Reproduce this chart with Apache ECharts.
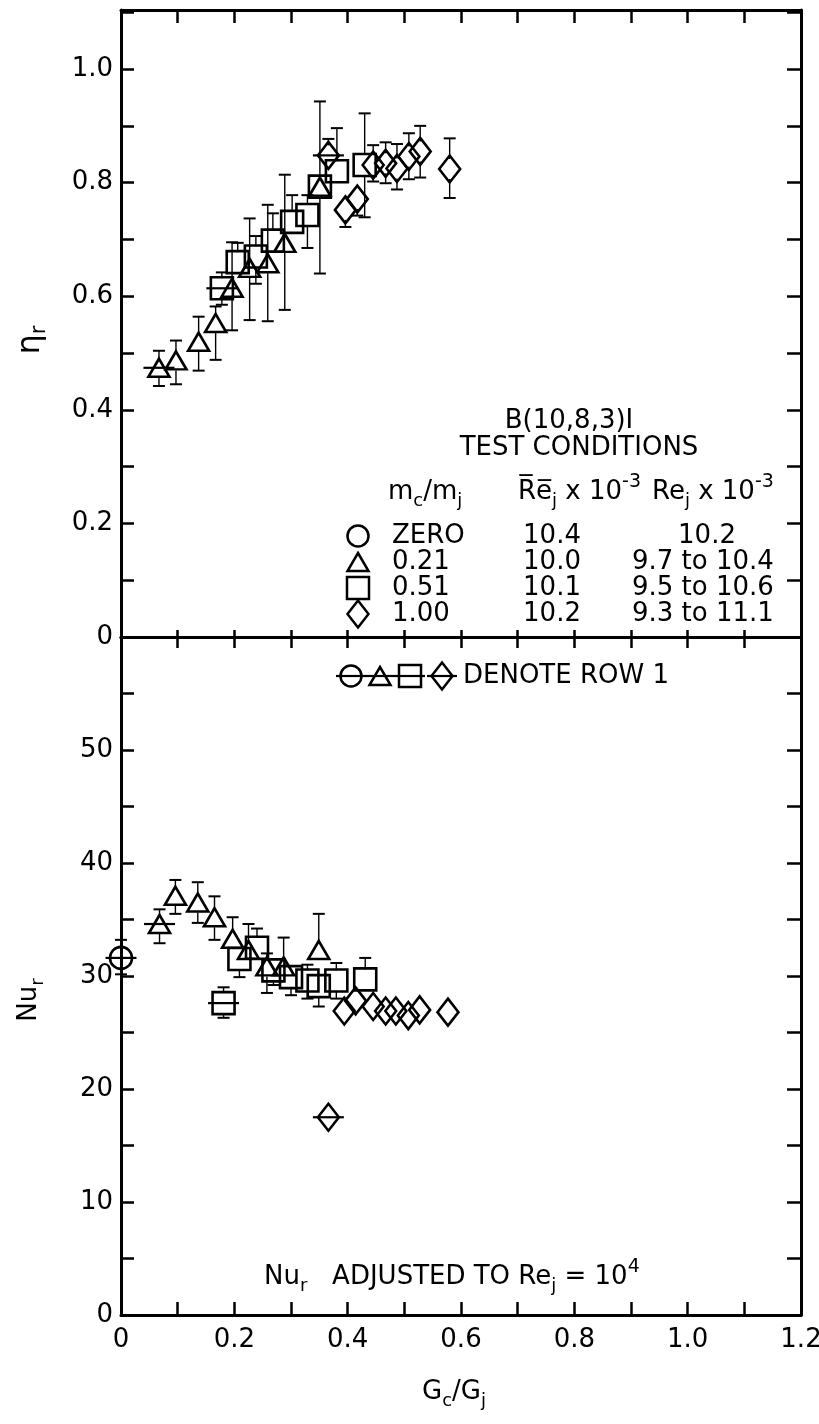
<!DOCTYPE html>
<html><head><meta charset="utf-8">
<script src="https://cdn.jsdelivr.net/npm/echarts@6/dist/echarts.min.js"></script>
<style>html,body{margin:0;padding:0;background:#fff}#c{width:819px;height:1424px}</style>
</head><body><div id="c"></div>
<script>
// ---- DATA: [G_c/G_j, value, lower error end, upper error end]; first point of each list = row 1
const etaTriangles = [
  [0.067,0.474,0.442,0.504],[0.097,0.487,0.445,0.522],[0.137,0.520,0.469,0.564],
  [0.167,0.553,0.488,0.582],[0.196,0.615,0.540,0.695],[0.227,0.650,0.558,0.737],
  [0.259,0.658,0.556,0.761],[0.289,0.694,0.576,0.814],[0.351,0.793,null,null]
];
const etaSquares = [
  [0.178,0.614,0.585,0.642],[0.206,0.660,null,0.694],[0.238,0.670,0.622,0.706],
  [0.268,0.698,null,0.746],[0.302,0.731,null,0.778],[0.329,0.743,0.685,0.778],
  [0.351,0.793,0.640,0.943],[0.381,0.820,null,0.896],[0.430,0.831,0.739,0.922]
];
const etaDiamonds = [
  [0.366,0.848,null,0.877],[0.396,0.752,0.722,null],[0.417,0.771,0.742,null],
  [0.445,0.831,0.802,0.866],[0.467,0.834,0.799,0.871],[0.487,0.825,0.788,0.868],
  [0.508,0.846,0.806,0.887],[0.528,0.855,0.809,0.900],[0.580,0.824,0.773,0.878]
];
const nuCircles = [[0.0,31.6,30.15,33.2]];
const nuTriangles = [
  [0.068,34.6,32.9,35.9],[0.096,37.1,35.5,38.5],[0.1355,36.5,34.7,38.3],
  [0.165,35.2,33.2,37.05],[0.197,33.3,null,35.2],[0.225,32.3,null,34.6],
  [0.2575,30.85,28.5,32.0],[0.287,30.85,null,33.4],[0.349,32.3,null,35.5]
];
const nuSquares = [
  [0.181,27.6,26.3,29.0],[0.209,31.5,29.9,null],[0.240,32.5,null,34.2],
  [0.269,30.5,29.2,null],[0.300,29.9,28.3,null],[0.329,29.6,28.0,31.0],
  [0.349,29.1,27.3,null],[0.380,29.6,28.0,31.15],[0.431,29.7,null,31.6]
];
const nuDiamonds = [
  [0.366,17.5,null,null],[0.394,26.9,null,null],[0.414,27.8,null,null],
  [0.445,27.3,null,null],[0.467,26.9,null,null],[0.485,26.9,null,null],
  [0.507,26.5,null,null],[0.527,27.0,null,null],[0.577,26.8,null,null]
];
const xTickLabels = ['0','0.2','0.4','0.6','0.8','1.0','1.2'];
const etaTickLabels = ['0','0.2','0.4','0.6','0.8','1.0'];
const nuTickLabels = ['0','10','20','30','40','50'];
const legendRows = [
  ['ZERO','10.4','10.2'],
  ['0.21','10.0','9.7 to 10.4'],
  ['0.51','10.1','9.5 to 10.6'],
  ['1.00','10.2','9.3 to 11.1']
];

// ---- STYLE
const FONT = 'DejaVu Sans';
const BLACK = '#000';
const FS = 26;
const SYM = {
  circle:{symbol:'circle',size:22},
  triangle:{symbol:'triangle',size:[21,18]},
  square:{symbol:'rect',size:[22,22]},
  diamond:{symbol:'diamond',size:[21,27]}
};

function errRender(params, api){
  const x=api.value(0), y=api.value(1), lo=api.value(2), hi=api.value(3);
  const p=api.coord([x,y]);
  const ch=[];
  const half=10, cap=6;
  [[lo,1],[hi,-1]].forEach(([v,dir])=>{
    if(v==null||isNaN(v)) return;
    const q=api.coord([x,v]);
    const start=p[1]+dir*half;
    if((q[1]-start)*dir>0){
      ch.push({type:'line',shape:{x1:p[0],y1:start,x2:p[0],y2:q[1]},style:{stroke:BLACK,lineWidth:1.4}});
    }
    ch.push({type:'line',shape:{x1:p[0]-cap,y1:q[1],x2:p[0]+cap,y2:q[1]},style:{stroke:BLACK,lineWidth:2}});
  });
  return {type:'group',children:ch};
}

const series=[];
function addSet(data, shape, panel){
  series.push({type:'custom',xAxisIndex:panel?3:0,yAxisIndex:panel?2:0,data:data,
    dimensions:['x','y','lo','hi'],encode:{x:0,y:1},renderItem:errRender,z:2,silent:true});
  series.push({type:'scatter',xAxisIndex:panel?3:0,yAxisIndex:panel?2:0,
    data:data.map(d=>[d[0],d[1]]),symbol:SYM[shape].symbol,symbolSize:SYM[shape].size,
    itemStyle:{color:'rgba(0,0,0,0)',borderColor:BLACK,borderWidth:2.6,opacity:1},z:3,silent:true});
  // row 1 marker: horizontal bar through first point
  series.push({type:'scatter',xAxisIndex:panel?3:0,yAxisIndex:panel?2:0,
    data:[[data[0][0],data[0][1]]],symbol:'rect',symbolSize:[31,2.2],
    itemStyle:{color:BLACK,opacity:1},z:4,silent:true});
}
addSet(etaTriangles,'triangle',0);
addSet(etaSquares,'square',0);
addSet(etaDiamonds,'diamond',0);
addSet(nuCircles,'circle',1);
addSet(nuTriangles,'triangle',1);
addSet(nuSquares,'square',1);
addSet(nuDiamonds,'diamond',1);

const axisLineStyle={onZero:false,lineStyle:{color:BLACK,width:3}};
function tickStyle(len){return {show:true,inside:true,length:len,lineStyle:{color:BLACK,width:2.5}};}
const labelBase={color:BLACK,fontFamily:FONT,fontSize:FS};

function xLabel(v){
  const r=Math.round(v*10);
  return r%2?'':xTickLabels[r/2];
}
function etaLabel(v){
  const r=Math.round(v*10);
  if(Math.abs(v*10-r)>1e-6) return '';
  return (r%2||r/2>=etaTickLabels.length)?'':etaTickLabels[r/2];
}
function nuLabel(v){
  const r=Math.round(v);
  return (r%10||r/10>=nuTickLabels.length)?'':nuTickLabels[r/10];
}

const xCommon={type:'value',min:0,max:1.2,interval:0.1,splitLine:{show:false},axisLine:axisLineStyle};
const option={
  animation:false,
  backgroundColor:'#fff',
  grid:[
    {left:121,right:18,top:10,height:627,containLabel:false,outerBoundsMode:'none'},
    {left:121,right:18,top:637,bottom:109,containLabel:false,outerBoundsMode:'none'}
  ],
  xAxis:[
    Object.assign({},xCommon,{gridIndex:0,position:'bottom',axisTick:tickStyle(7),axisLabel:{show:false}}),
    Object.assign({},xCommon,{gridIndex:0,position:'top',axisTick:tickStyle(13),axisLabel:{show:false}}),
    Object.assign({},xCommon,{gridIndex:1,position:'top',axisTick:tickStyle(11),axisLabel:{show:false}}),
    Object.assign({},xCommon,{gridIndex:1,position:'bottom',axisTick:tickStyle(13),
      axisLabel:Object.assign({},labelBase,{margin:12,formatter:xLabel})})
  ],
  yAxis:[
    {type:'value',gridIndex:0,min:0,max:1.104,interval:0.1,position:'left',splitLine:{show:false},
      axisLine:axisLineStyle,axisTick:tickStyle(13),axisLabel:Object.assign({},labelBase,{margin:8,formatter:etaLabel,showMaxLabel:false})},
    {type:'value',gridIndex:0,min:0,max:1.104,interval:0.1,position:'right',splitLine:{show:false},
      axisLine:axisLineStyle,axisTick:tickStyle(14),axisLabel:{show:false}},
    {type:'value',gridIndex:1,min:0,max:60,interval:5,position:'left',splitLine:{show:false},
      axisLine:axisLineStyle,axisTick:tickStyle(13),axisLabel:Object.assign({},labelBase,{margin:8,formatter:nuLabel})},
    {type:'value',gridIndex:1,min:0,max:60,interval:5,position:'right',splitLine:{show:false},
      axisLine:axisLineStyle,axisTick:tickStyle(14),axisLabel:{show:false}}
  ],
  series:series
};

// ---- annotations (graphic)
function txt(x,y,text,rich,opts){
  opts=opts||{};
  return Object.assign({type:'text',x:x,y:y,z:10,silent:true,
    style:{text:text,rich:rich,fill:BLACK,font:FS+'px '+FONT,fontFamily:FONT,fontSize:FS,
      align:opts.align||'left',textAlign:opts.align||'left',verticalAlign:'middle',textVerticalAlign:'middle'}},
    opts.rotation!=null?{rotation:opts.rotation}:{});
}
const richBase={
  m:{fontFamily:FONT,fontSize:FS,color:BLACK},
  s:{fontFamily:FONT,fontSize:18,color:BLACK,padding:[18,0,0,0]},
  p:{fontFamily:FONT,fontSize:19,color:BLACK,padding:[0,0,20,0]}
};
const g=[];
// axis titles
g.push(txt(31,340,'{m|η}{s|r}',{m:{fontFamily:FONT,fontSize:32,color:BLACK},s:{fontFamily:FONT,fontSize:21,color:BLACK,padding:[18,0,0,0]}},{align:'center',rotation:Math.PI/2}));
g.push(txt(29,1000,'{m|Nu}{s|r}',richBase,{align:'center',rotation:Math.PI/2}));
g.push(txt(454,1392,'{m|G}{s|c}{m|/G}{s|j}',richBase,{align:'center'}));
g.push(txt(264,1277,'{m|Nu}{s|r}{m|   ADJUSTED TO Re}{s|j}{m| = 10}{p|4}',richBase,{align:'left'}));
// legend table
g.push(txt(569,421,'{m|B(10,8,3)I}',richBase,{align:'center'}));
g.push(txt(579,448,'{m|TEST CONDITIONS}',richBase,{align:'center'}));
g.push(txt(388,492,'{m|m}{s|c}{m|/m}{s|j}',richBase));
g.push(txt(518,492,'{m|R\u0305e\u0305}{s|j}{m| x 10}{p|-3}',richBase));
g.push(txt(652,492,'{m|Re}{s|j}{m| x 10}{p|-3}',richBase));
const rowY=[536,562,588,614];
const legendShapes=['circle','triangle','square','diamond'];
function shapeEl(shape,cx,cy){
  const st={fill:'none',stroke:BLACK,lineWidth:2.5};
  if(shape==='circle') return {type:'circle',shape:{cx:cx,cy:cy,r:10.5},style:st,silent:true,z:10};
  if(shape==='triangle') return {type:'polygon',shape:{points:[[cx,cy-9],[cx+10.5,cy+9],[cx-10.5,cy+9]]},style:st,silent:true,z:10};
  if(shape==='square') return {type:'rect',shape:{x:cx-11,y:cy-11,width:22,height:22},style:st,silent:true,z:10};
  return {type:'polygon',shape:{points:[[cx,cy-13.5],[cx+10.5,cy],[cx,cy+13.5],[cx-10.5,cy]]},style:st,silent:true,z:10};
}
legendRows.forEach((r,i)=>{
  g.push(shapeEl(legendShapes[i],358,rowY[i]));
  g.push(txt(392,rowY[i],'{m|'+r[0]+'}',richBase));
  g.push(txt(552,rowY[i],'{m|'+r[1]+'}',richBase,{align:'center'}));
  if(i===0) g.push(txt(707,rowY[i],'{m|'+r[2]+'}',richBase,{align:'center'}));
  else g.push(txt(632,rowY[i],'{m|'+r[2]+'}',richBase));
});
// row-1 key
const keyX=[351,380,410,442];
legendShapes.forEach((s,i)=>{
  g.push(shapeEl(s,keyX[i],676));
  g.push({type:'line',shape:{x1:keyX[i]-15,y1:676,x2:keyX[i]+15,y2:676},style:{stroke:BLACK,lineWidth:2.2},silent:true,z:10});
});
g.push(txt(463,676,'{m|DENOTE ROW 1}',richBase));
option.graphic={elements:g};

const chart=echarts.init(document.getElementById('c'),null,{renderer:'canvas'});
chart.setOption(option);
</script>
</body></html>
